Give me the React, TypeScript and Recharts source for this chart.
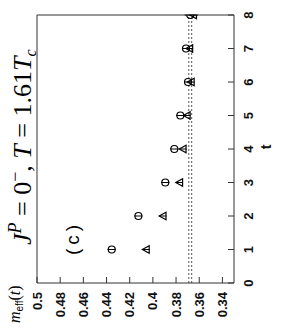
import { ScatterChart, Scatter, XAxis, YAxis, ErrorBar, ReferenceLine } from 'recharts';

// effective mass plateau, two operators, vs. Euclidean time t
const tValues = [1, 2, 3, 4, 5, 6, 7, 8];
const circleMass = [0.4355, 0.4125, 0.3893, 0.3815, 0.3763, 0.3697, 0.3714, 0.3677];
const circleErr = [0.0035, 0.0035, 0.0035, 0.0035, 0.0035, 0.0035, 0.0035, 0.005];
const triangleMass = [0.4058, 0.3913, 0.377, 0.374, 0.3705, 0.367, 0.3683, 0.365];
const triangleErr = [0.003, 0.003, 0.003, 0.003, 0.003, 0.003, 0.003, 0.004];
const plateauLow = 0.3665;
const plateauHigh = 0.369;

const tTicks = [0, 1, 2, 3, 4, 5, 6, 7, 8];
const massTicks = [0.34, 0.36, 0.38, 0.4, 0.42, 0.44, 0.46, 0.48, 0.5];
const massTickLabels = ['0.34', '0.36', '0.38', '0.4', '0.42', '0.44', '0.46', '0.48', '0.5'];

const circleData = tValues.map((t, i) => ({ t, m: circleMass[i], err: circleErr[i] }));
const triangleData = tValues.map((t, i) => ({ t, m: triangleMass[i], err: triangleErr[i] }));

const W = 332;
const H = 284;
const frame = '#333';
const tickFont = { fontFamily: 'Liberation Sans, Arial, sans-serif', fontSize: 13, fontWeight: 700, fill: '#111' };

const CircleMark = (props: any) => {
  const { cx, cy } = props;
  return <circle cx={cx} cy={cy} r={3.5} fill="none" stroke="#000" strokeWidth={1.2} />;
};

const TriangleMark = (props: any) => {
  const { cx, cy } = props;
  const r = 3.8;
  const pts = `${cx},${cy - r} ${cx - r},${cy + r * 0.8} ${cx + r},${cy + r * 0.8}`;
  return <polygon points={pts} fill="none" stroke="#000" strokeWidth={1.2} />;
};

export default function App() {
  return (
    <div style={{ position: 'fixed', left: 0, top: 0, width: H, height: W, background: '#fff', overflow: 'hidden' }}>
      <div
        style={{
          position: 'absolute',
          left: 0,
          top: 0,
          width: W,
          height: H,
          transformOrigin: '0 0',
          transform: `translate(0px, ${W}px) rotate(-90deg)`,
        }}
      >
        <ScatterChart width={W} height={H} margin={{ top: 36, right: 14, bottom: 20, left: 9 }}>
          <XAxis
            dataKey="t"
            type="number"
            domain={[0, 8]}
            ticks={tTicks}
            height={30}
            tickSize={-6}
            tickMargin={16}
            stroke={frame}
            tick={tickFont}
            allowDataOverflow
          />
          <XAxis
            xAxisId="top"
            orientation="top"
            type="number"
            domain={[0, 8]}
            ticks={tTicks}
            height={1}
            tickSize={-6}
            tickFormatter={() => ''}
            stroke={frame}
          />
          <YAxis
            dataKey="m"
            type="number"
            domain={[0.33, 0.5]}
            ticks={massTicks}
            width={40}
            tickSize={-6}
            tickMargin={15}
            stroke={frame}
            tick={tickFont}
            tickFormatter={(v: number) => massTickLabels[massTicks.indexOf(v)] ?? String(v)}
            allowDataOverflow
          />
          <YAxis
            yAxisId="right"
            orientation="right"
            type="number"
            domain={[0.33, 0.5]}
            ticks={massTicks}
            width={1}
            tickSize={-6}
            tickFormatter={() => ''}
            stroke={frame}
          />
          <ReferenceLine y={plateauHigh} stroke="#555" strokeDasharray="2 2" />
          <ReferenceLine y={plateauLow} stroke="#555" strokeDasharray="2 2" />
          <Scatter data={circleData} shape={<CircleMark />} isAnimationActive={false}>
            <ErrorBar dataKey="err" direction="y" width={0} stroke="#000" strokeWidth={1} />
          </Scatter>
          <Scatter data={triangleData} shape={<TriangleMark />} isAnimationActive={false}>
            <ErrorBar dataKey="err" direction="y" width={0} stroke="#000" strokeWidth={1} />
          </Scatter>
        </ScatterChart>
        <svg width={W} height={H} style={{ position: 'absolute', left: 0, top: 0, pointerEvents: 'none' }}>
          <text x={87} y={31} fontFamily="Liberation Serif, serif" fontSize={26} fill="#000">
            <tspan fontStyle="italic">J</tspan>
            <tspan fontStyle="italic" fontSize={18} dy={-10}>P</tspan>
            <tspan dy={10}> = 0</tspan>
            <tspan fontSize={18} dy={-10}>−</tspan>
            <tspan dy={10}>, </tspan>
            <tspan fontStyle="italic">T</tspan>
            <tspan> = 1.61</tspan>
            <tspan fontStyle="italic">T</tspan>
            <tspan fontStyle="italic" fontSize={16} dy={5}>c</tspan>
          </text>
          <text x={77} y={79} fontFamily="Liberation Sans, Arial, sans-serif" fontSize={19} letterSpacing={4} fill="#000">
            (c)
          </text>
          <text x={9} y={20} fontFamily="Liberation Serif, serif" fontSize={16} fill="#000">
            <tspan fontStyle="italic">m</tspan>
            <tspan fontFamily="Liberation Sans, Arial, sans-serif" fontSize={10} dy={3}>eff</tspan>
            <tspan dy={-3}>(</tspan>
            <tspan fontStyle="italic">t</tspan>
            <tspan>)</tspan>
          </text>
          <text x={185} y={271} textAnchor="middle" fontFamily="Liberation Sans, Arial, sans-serif" fontSize={14} fontWeight={700} fill="#111">
            t
          </text>
        </svg>
      </div>
    </div>
  );
}
